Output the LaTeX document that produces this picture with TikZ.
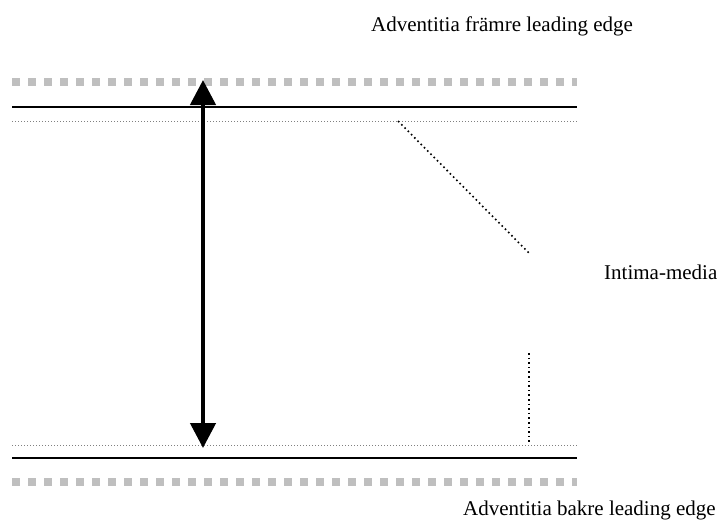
\documentclass[tikz,border=0pt]{standalone}
\usepackage{fontspec}
\setmainfont{Liberation Serif}
\usetikzlibrary{arrows.meta}
\begin{document}
\begin{tikzpicture}[x=1pt,y=-1pt,
  graydash/.style={draw=black!25,line width=8pt,dash pattern=on 8pt off 8pt},
  wall/.style={draw=black,line width=2pt},
  intima/.style={draw=black!50,line width=1pt,dash pattern=on 1pt off 2pt},
  leader/.style={draw=black,line width=1.6pt,dash pattern=on 1.6pt off 3pt},
  lbl/.style={font=\fontsize{21}{25}\selectfont,inner sep=0pt,anchor=base west},
  measure/.style={line width=4.5pt,{Triangle[width=25pt,length=25pt]}-{Triangle[width=25pt,length=25pt]}}]
\useasboundingbox (0,0) rectangle (719,520);
% coordinates
\coordinate (tgL) at (12,81.5);  \coordinate (tgR) at (577,81.5);
\coordinate (twL) at (12,106.5); \coordinate (twR) at (577,106.5);
\coordinate (tiL) at (12,121);   \coordinate (tiR) at (577,121);
\coordinate (biL) at (12,445);   \coordinate (biR) at (577,445);
\coordinate (bwL) at (12,457.5); \coordinate (bwR) at (577,457.5);
\coordinate (bgL) at (12,482);   \coordinate (bgR) at (577,482);
\coordinate (atop) at (203,80);  \coordinate (abot) at (203,448);
\coordinate (d1) at (398,121);   \coordinate (d2) at (529,253);
\coordinate (v1) at (529,353);   \coordinate (v2) at (529,443);
% labels
\node[lbl] (ttop) at (371,31) {Adventitia främre leading edge};
\node[lbl] (tmid) at (604,279) {Intima-media};
\node[lbl] (tbot) at (463,515) {Adventitia bakre leading edge};
% lines
\draw[graydash] (tgL) -- (tgR);
\draw[wall] (twL) -- (twR);
\draw[intima] (tiL) -- (tiR);
\draw[intima] (biL) -- (biR);
\draw[wall] (bwL) -- (bwR);
\draw[graydash] (bgL) -- (bgR);
\draw[leader] (d1) -- (d2);
\draw[leader] (v1) -- (v2);
\draw[measure] (abot) -- (atop);
\end{tikzpicture}
\end{document}
